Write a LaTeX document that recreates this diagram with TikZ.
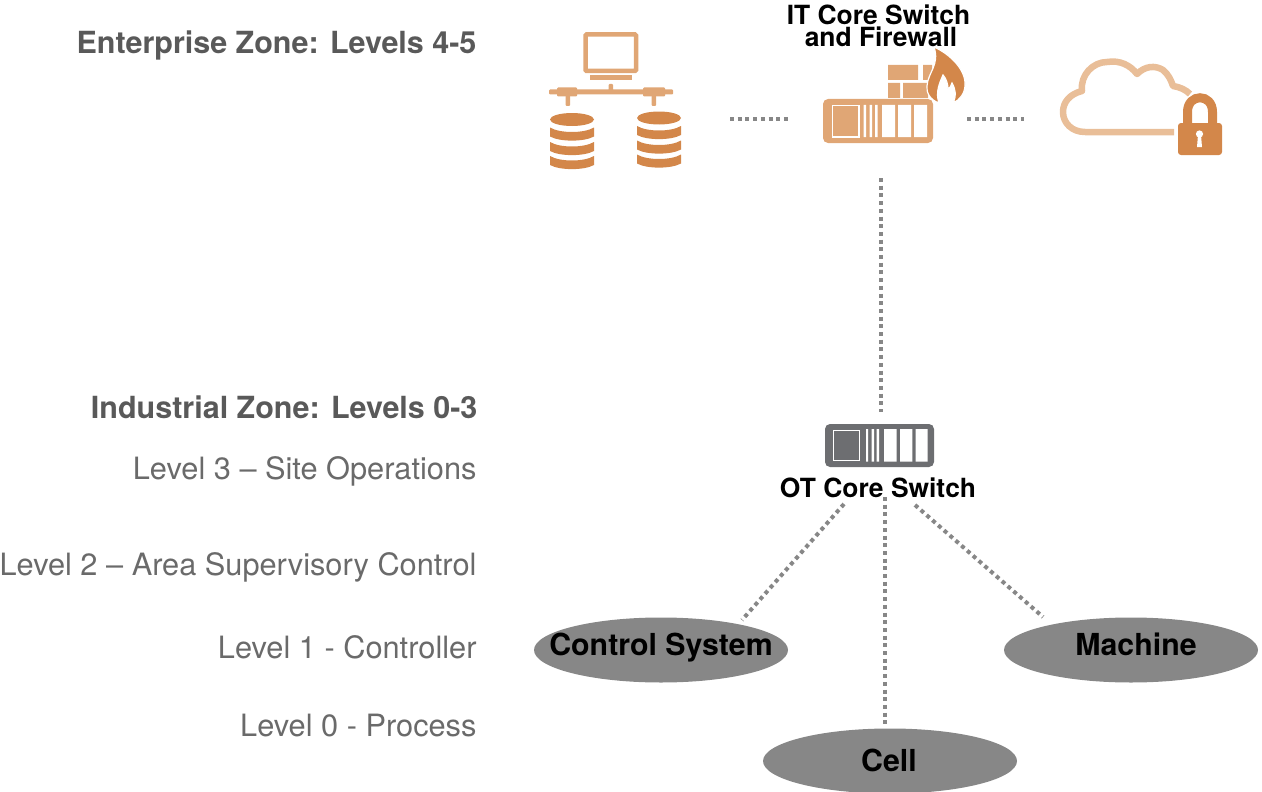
\documentclass[tikz,border=0pt]{standalone}
\usepackage{fontspec}
\setmainfont{TeX Gyre Heros}
\usetikzlibrary{shapes.geometric}
\definecolor{iconlight}{HTML}{E0A675}
\definecolor{icondark}{HTML}{D3874A}
\definecolor{cloudline}{HTML}{E9BE98}
\definecolor{switchgray}{HTML}{6D6E71}
\definecolor{ovalgray}{HTML}{878787}
\definecolor{zonetext}{HTML}{595959}
\definecolor{leveltext}{HTML}{6A6A6A}
\tikzset{
    zone/.style={anchor=east, text=zonetext, font=\fontsize{30.5}{30.5}\selectfont\bfseries},
    level/.style={anchor=east, text=leveltext, font=\fontsize{30.75}{30.75}\selectfont},
    oval/.style={ellipse, fill=ovalgray, minimum width=254, minimum height=65, inner sep=0},
    tag/.style={text=black, font=\fontsize{30.3}{30.3}\selectfont\bfseries},
    iconlabel/.style={text=black, font=\fontsize{26.4}{22.5}\selectfont\bfseries, align=center, inner sep=0},
    link/.style={color=ovalgray, line width=4, dash pattern=on 4 off 3.7}
}
\newcommand{\dbstack}[2]{
    \fill[icondark] (#1,#2+6.5) ellipse [x radius=22, y radius=6.5];
    \foreach \band in {14.5,29,43}{
        \fill[icondark] (#1-22,#2+\band)
            .. controls (#1-12,#2+\band+6) and (#1+12,#2+\band+6) .. (#1+22,#2+\band)
            -- (#1+22,#2+\band+9)
            .. controls (#1+12,#2+\band+14.5) and (#1-12,#2+\band+14.5) .. (#1-22,#2+\band+9)
            -- cycle;
    }
}
\begin{document}
\begin{tikzpicture}
    [x=1pt, y=-1pt]
    \useasboundingbox (0,0) rectangle (1262,792);
    % left column
    \node[zone] (enterprise) at (480,45) {Enterprise Zone: Levels 4-5};
    \node[zone] (industrial) at (481,407) {Industrial Zone: Levels 0-3};
    \node[level] (site) at (480,471) {Level 3 – Site Operations};
    \node[level] (area) at (480,567) {Level 2 – Area Supervisory Control};
    \node[level] (controller) at (480,647.5) {Level 1 - Controller};
    \node[level] (process) at (480,726) {Level 0 - Process};
    % computer and databases
    \draw[iconlight, line width=4.5, rounded corners=1]
        (585.5,34.5) rectangle (636,71);
    \fill[iconlight] (590,75) rectangle (632,80);
    \fill[iconlight, rounded corners=1]
        (549,89.5) rectangle (673,94.5)
        (557,87.5) rectangle (577,96.5)
        (643,87.5) rectangle (665,96.5)
        (608.5,84) rectangle (613,90)
        (565.5,96) rectangle (570,106)
        (651.5,96) rectangle (656,106);
    \dbstack{572}{113}
    \dbstack{659}{111.5}
    % firewall
    \fill[iconlight]
        (888,65) rectangle (918,80)
        (923,65) rectangle (932,80)
        (888,83) rectangle (900,98)
        (903,83) rectangle (928,98);
    \fill[iconlight, rounded corners=5] (823,99) rectangle (933,143);
    \draw[white, line width=1.2] (832.5,105.5) rectangle (859,137);
    \fill[white]
        (863.5,105) rectangle (866,137)
        (869.5,105) rectangle (872,137)
        (875,105) rectangle (877.5,137)
        (882,105) rectangle (895,137)
        (898,105) rectangle (911,137)
        (914,105) rectangle (927,137);
    \fill[icondark, draw=white, line width=1.2]
        (934,47) .. controls (950,54) and (966,70) .. (965,85)
        .. controls (965,93) and (960,100) .. (953,103)
        .. controls (957,95) and (955,88) .. (952,83)
        .. controls (951,86) and (950,88) .. (948,89)
        .. controls (948,84) and (946,78) .. (943,75)
        .. controls (940,82) and (935,92) .. (939,103)
        .. controls (930,100) and (926,92) .. (927,86)
        .. controls (928,72) and (940,65) .. (934,47) -- cycle;
    \node[iconlabel] (itcore) at (878.5,26) {IT Core Switch\\\hspace*{5pt}and Firewall};
    % cloud and lock
    \draw[cloudline, line width=6.5, line join=round]
        (1174,132) -- (1085,132)
        .. controls (1072,132) and (1063,123) .. (1063,112)
        .. controls (1063,102) and (1070,94) .. (1082,91)
        .. controls (1080,75) and (1093,62) .. (1107,62)
        .. controls (1120,60) and (1130,65) .. (1137,74)
        .. controls (1145,66) and (1155,65) .. (1163,70)
        .. controls (1168,74) and (1171,80) .. (1173,86)
        .. controls (1180,87) and (1186,90) .. (1190,94);
    \draw[icondark, line width=9] (1187.5,125) -- (1187.5,112)
        .. controls (1187.5,93) and (1212.5,93) .. (1212.5,112) -- (1212.5,125);
    \fill[icondark, rounded corners=3] (1178,123) rectangle (1222,155);
    \fill[white] (1199.5,134) circle (3.6);
    \fill[white] (1198,135) -- (1201,135) -- (1202,147) -- (1197,147) -- cycle;
    % OT switch
    \fill[switchgray, rounded corners=5] (825,424) rectangle (934,467);
    \draw[white, line width=1] (833.5,430) rectangle (859.5,460);
    \fill[white]
        (866,429) rectangle (868,461.5)
        (871.7,429) rectangle (874,461.5)
        (876.7,429) rectangle (879,461.5)
        (884,429) rectangle (896.7,461.5)
        (900,429) rectangle (912.3,461.5)
        (915.7,429) rectangle (927.7,461.5);
    \node[iconlabel] (otcore) at (878,488) {OT Core Switch};
    % endpoints
    \node[oval] (control) at (661,650) {};
    \node[oval] (machine) at (1131,650) {};
    \node[oval] (cell) at (890,761) {};
    \node[tag] (controltag) at (661,648) {Control System};
    \node[tag] (machinetag) at (1136,644) {Machine};
    \node[tag] (celltag) at (889,760) {Cell};
    % connectors
    \coordinate (itwest) at (788,119);
    \coordinate (dbeast) at (730,119);
    \coordinate (iteast) at (967,119);
    \coordinate (cloudwest) at (1024,119);
    \coordinate (itsouth) at (881,178);
    \coordinate (otnorth) at (881,412);
    \coordinate (otsw) at (844,504);
    \coordinate (otsouth) at (885,497);
    \coordinate (otse) at (915,505);
    \coordinate (controlend) at (742,620);
    \coordinate (cellend) at (885,727);
    \coordinate (machineend) at (1043,617);
    \draw[link] (dbeast) -- (itwest);
    \draw[link] (iteast) -- (cloudwest);
    \draw[link] (itsouth) -- (otnorth);
    \draw[link] (otsw) -- (controlend);
    \draw[link] (otsouth) -- (cellend);
    \draw[link] (otse) -- (machineend);
\end{tikzpicture}
\end{document}
